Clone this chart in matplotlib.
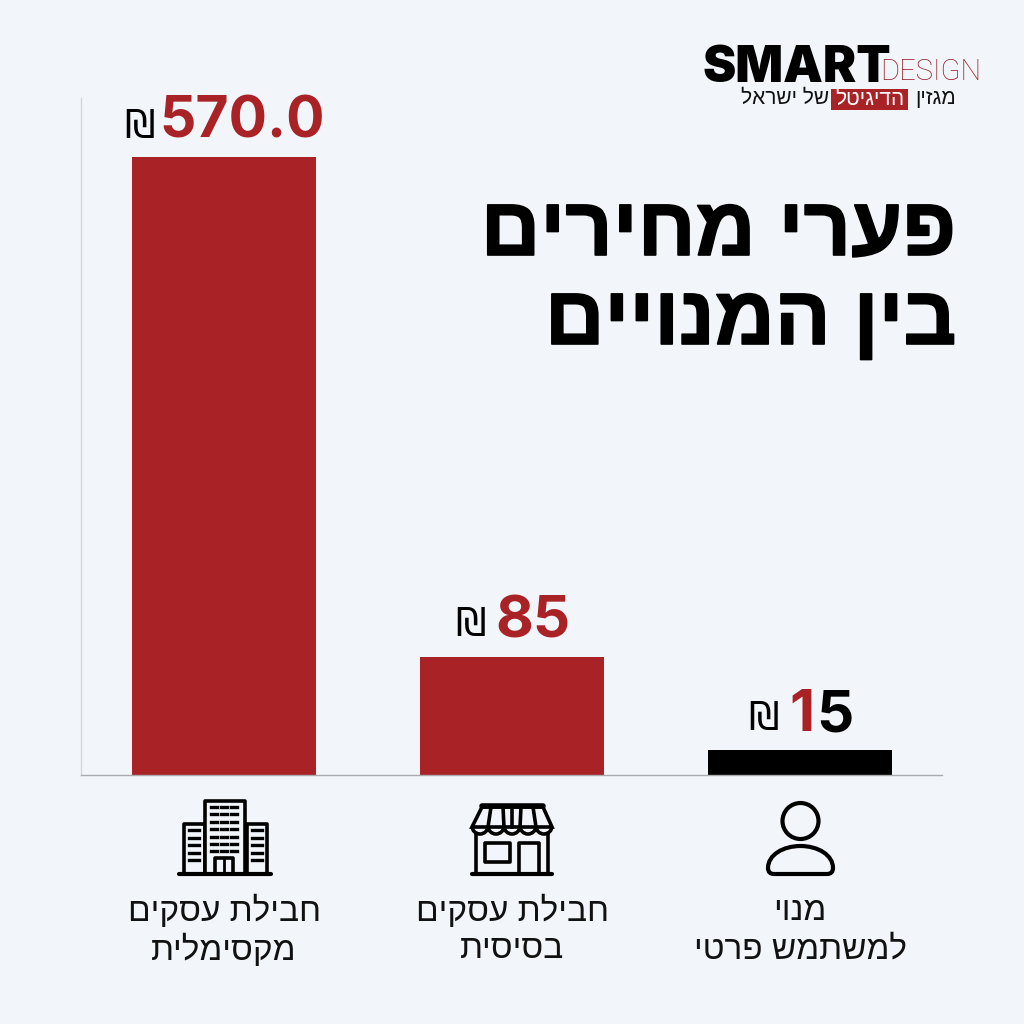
import matplotlib
matplotlib.use('Agg')
import matplotlib.pyplot as plt
import matplotlib.patheffects as pe
from matplotlib.patches import Circle, Rectangle, PathPatch, Polygon
from matplotlib.path import Path

# values as labelled
value_labels = ['570.0', '85', '15']
# bar heights as drawn in the picture, the original is not to scale
bar_heights = [570, 109, 23]
bar_colors = ['#a82226', '#a82226', '#000000']
label_line1 = ['חבילת עסקים', 'חבילת עסקים', 'מנוי']
label_line2 = ['מקסימלית', 'בסיסית', 'למשתמש פרטי']
title_lines = ['פערי מחירים', 'בין המנויים']
logo_parts = ['מגזין', 'הדיגיטל', 'של ישראל']

BG = '#f2f6fa'
RED = '#a82226'
HEB = ['Liberation Sans', 'DejaVu Sans']


def heb(s):
    # no bidi in matplotlib, so put the hebrew in visual order
    return s[::-1]


fig = plt.figure(figsize=(10.24, 10.24), dpi=100, facecolor=BG)

ax = fig.add_axes([81 / 1024, 1 - 775 / 1024, (942 - 81) / 1024, (775 - 98) / 1024])
ax.set_facecolor('none')
x_pos = [0, 1, 2]
ax.bar(x_pos, bar_heights, width=0.642, color=bar_colors)
ax.set_xlim((81 - 224) / 288, (942 - 224) / 288)
ax.set_ylim(0, 624.4)
ax.set_xticks([])
ax.set_yticks([])
for s in ['top', 'right']:
    ax.spines[s].set_visible(False)
ax.spines['left'].set_color('#d4d6d9')
ax.spines['bottom'].set_color('#a9abae')
ax.spines['left'].set_linewidth(1)
ax.spines['bottom'].set_linewidth(1)

# overlay in pixel coordinates for the text and the icons
ov = fig.add_axes([0, 0, 1, 1])
ov.set_xlim(0, 1024)
ov.set_ylim(1024, 0)
ov.axis('off')

# title, a thin stroke makes it as heavy as the original
thick = [pe.withStroke(linewidth=1.2, foreground='black')]
ov.text(956, 233, heb(title_lines[0]), family=HEB, weight='bold', fontsize=59.5,
        ha='right', va='center', color='black', path_effects=thick)
ov.text(956, 322, heb(title_lines[1]), family=HEB, weight='bold', fontsize=59.5,
        ha='right', va='center', color='black', path_effects=thick)

# value labels
NUM = ['Inter', 'Roboto', 'DejaVu Sans']
ov.text(325, 122, value_labels[0], family=NUM, weight='bold', fontsize=41, color=RED,
        ha='right', va='center')
ov.text(570, 622, value_labels[1], family=NUM, weight='bold', fontsize=42, color=RED,
        ha='right', va='center')
ov.text(853, 716, value_labels[2][1], family=NUM, weight='bold', fontsize=42, color='black',
        ha='right', va='center')
ov.text(815, 716, value_labels[2][0], family=NUM, weight='bold', fontsize=42, color=RED,
        ha='right', va='center')
for xs, ys in [(139, 126), (470, 624), (763, 718)]:
    ov.text(xs, ys, '₪', family=['DejaVu Sans'], fontsize=28, color='black',
            ha='center', va='center')

# category labels
for xc, a, b in zip([224, 512, 800], label_line1, label_line2):
    ov.text(xc, 911, heb(a), family=HEB, fontsize=24, ha='center', va='center', color='#111111')
    ov.text(xc, 950, heb(b), family=HEB, fontsize=24, ha='center', va='center', color='#111111')

LW = 2.6


def box(x0, y0, x1, y1, fc='none', lw=LW):
    ov.add_patch(Rectangle((x0, y0), x1 - x0, y1 - y0, fc=fc, ec='black', lw=lw, joinstyle='round'))


# building icon
box(184, 824, 205, 874)
box(247, 824, 267, 874)
box(205, 801, 245, 874, fc=BG)
ov.plot([179, 271], [874, 874], color='black', lw=3, solid_capstyle='round')
box(215, 858, 233, 874)
ov.plot([224, 224], [858, 874], color='black', lw=2)
for r in range(7):
    yy = 807 + r * 7.4
    for xx in [211, 221, 231]:
        ov.plot([xx, xx + 6], [yy, yy], color='black', lw=2.4)
for r in range(5):
    yy = 830 + r * 7.5
    ov.plot([189, 199], [yy, yy], color='black', lw=2.4)
    ov.plot([252, 262], [yy, yy], color='black', lw=2.4)

# shop icon
box(476, 830, 548, 874)
for k in range(5):
    ov.add_patch(Circle((480 + k * 16, 826), 8, fc=BG, ec='black', lw=LW))
ov.add_patch(Rectangle((470, 812), 84, 15, fc=BG, ec='none'))
ov.add_patch(Polygon([(482, 807), (543, 807), (552, 827), (472, 827)], closed=True,
                     fc='none', ec='black', lw=LW))
ov.plot([482, 543], [806, 806], color='black', lw=4, solid_capstyle='round')
for top, bot in [(491, 488), (503, 504), (512, 512), (521, 520), (533, 536)]:
    ov.plot([top, bot], [807, 827], color='black', lw=LW)
box(485, 843, 510, 862)
box(519, 843, 539, 874)
ov.plot([472, 552], [874, 874], color='black', lw=3, solid_capstyle='round')

# person icon
ov.add_patch(Circle((800.5, 821), 18, fc='none', ec='black', lw=LW + 0.4))
dome = Path(
    [(774, 874), (827, 874), (833, 874), (833, 868), (833, 855), (818, 846), (800.5, 846),
     (783, 846), (768, 855), (768, 868), (768, 874), (774, 874)],
    [Path.MOVETO, Path.LINETO, Path.CURVE3, Path.CURVE3, Path.CURVE4, Path.CURVE4, Path.CURVE4,
     Path.CURVE4, Path.CURVE4, Path.CURVE4, Path.CURVE3, Path.CURVE3],
)
ov.add_patch(PathPatch(dome, fc='none', ec='black', lw=LW + 0.4, joinstyle='round'))

# logo
ov.text(703, 68, 'SMART', family=['Inter', 'Roboto'], weight='black', fontsize=36, color='black',
        ha='left', va='center')
ov.text(981, 72, 'DESIGN', family=['Roboto', 'Lato'], weight='light', fontsize=21, color='#96202a',
        ha='right', va='center')
ov.text(956, 98, heb(logo_parts[0]), family=HEB, fontsize=15, ha='right', va='center', color='#111111')
ov.add_patch(Rectangle((831, 89), 77, 21, fc=RED, ec='none'))
ov.text(870, 99, heb(logo_parts[1]), family=HEB, fontsize=15, ha='center', va='center', color='white')
ov.text(829, 98, heb(logo_parts[2]), family=HEB, fontsize=15, ha='right', va='center', color='#111111')

fig.savefig('out.png', dpi=100, facecolor=BG)
